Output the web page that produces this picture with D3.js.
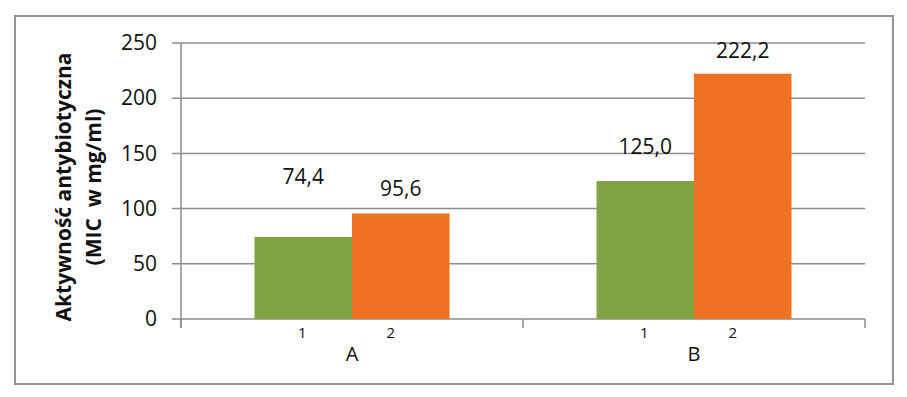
<!DOCTYPE html>
<html><head><meta charset="utf-8">
<script src="https://cdn.jsdelivr.net/npm/d3@7"></script>
<style>body{margin:0;background:#fff}svg{display:block}</style>
</head><body><svg id="c" width="907" height="397"></svg>
<script>
const categories = ["A", "B"];
const series = ["1", "2"];
const values1 = [74.4, 125.0];
const values2 = [95.6, 222.2];
const yTicks = [0, 50, 100, 150, 200, 250];
const valueLabels = [["74,4", "95,6"], ["125,0", "222,2"]];
const yTitle = ["Aktywność antybiotyczna", "(MIC  w mg/ml)"];
const colors = ["#80a441", "#ef7223"];
// label offsets above bar top (layout only)
const labelGap = [[60, 25], [34, 23]];

const svg = d3.select("#c");
const font = "'Open Sans', sans-serif";
const grid = "#8c8c8c";

svg.append("rect").attr("x", 15).attr("y", 16).attr("width", 878).attr("height", 368)
  .attr("fill", "#fff").attr("stroke", "#929292").attr("stroke-width", 2);

const plotL = 181, plotR = 865, plotT = 43, plotB = 319;
const y = d3.scaleLinear().domain([0, 250]).range([plotB, plotT]);
const x0 = d3.scaleBand().domain(categories).range([plotL, plotR]).padding(0);
const x1 = d3.scaleBand().domain(series).range([0, x0.bandwidth()]).paddingInner(0).paddingOuter(0.754);

// gridlines
svg.append("g").selectAll("line").data(yTicks).join("line")
  .attr("x1", plotL - 9).attr("x2", plotR).attr("y1", d => y(d)).attr("y2", d => y(d))
  .attr("stroke", grid).attr("stroke-width", 1.5);

// y tick labels
const yAxis = d3.axisLeft(y).tickValues(yTicks).tickSize(0).tickPadding(24);
const ya = svg.append("g").attr("transform", `translate(${plotL},0)`).call(yAxis);
ya.select(".domain").remove();
ya.selectAll("text").attr("font-family", font).attr("font-size", 21).attr("fill", "#111");

// bars
const data = categories.map((c, i) => ({cat: c, vals: [values1[i], values2[i]]}));
const groups = svg.append("g").selectAll("g").data(data).join("g")
  .attr("transform", d => `translate(${x0(d.cat)},0)`);
groups.selectAll("rect").data(d => d.vals.map((v, j) => ({s: series[j], v, j}))).join("rect")
  .attr("x", d => x1(d.s)).attr("width", x1.bandwidth())
  .attr("y", d => y(d.v)).attr("height", d => y(0) - y(d.v))
  .attr("fill", d => colors[d.j]);

// value labels
groups.each(function(d, i) {
  d3.select(this).selectAll("text.val").data(d.vals).join("text").attr("class", "val")
    .attr("x", (v, j) => x1(series[j]) + x1.bandwidth() / 2)
    .attr("y", (v, j) => y(v) - labelGap[i][j])
    .attr("text-anchor", "middle").attr("dy", "0.35em")
    .attr("font-family", font).attr("font-size", 21).attr("fill", "#111")
    .text((v, j) => valueLabels[i][j]);
});

// axis lines
svg.append("line").attr("x1", plotL).attr("x2", plotL).attr("y1", plotT).attr("y2", plotB + 9)
  .attr("stroke", grid).attr("stroke-width", 1.5);
const xTickPos = [plotL, x0("B"), plotR];
svg.append("g").selectAll("line").data(xTickPos).join("line")
  .attr("x1", d => d).attr("x2", d => d).attr("y1", plotB).attr("y2", plotB + 9)
  .attr("stroke", grid).attr("stroke-width", 1.5);

// sub labels
const subDx = [-1, -10];
groups.selectAll("text.sub").data(series).join("text").attr("class", "sub")
  .attr("x", (s, j) => x1(s) + x1.bandwidth() / 2 + subDx[j]).attr("y", 333).attr("dy", "0.35em")
  .attr("text-anchor", "middle").attr("font-family", font).attr("font-size", 15).attr("fill", "#111")
  .text(s => s);
groups.append("text").attr("x", x0.bandwidth() / 2).attr("y", 354).attr("dy", "0.35em")
  .attr("text-anchor", "middle").attr("font-family", font).attr("font-size", 20).attr("fill", "#111")
  .text(d => d.cat);

// y title
const t = svg.append("text").attr("transform", `translate(0,${(plotT + plotB) / 2 + 6}) rotate(-90)`)
  .attr("text-anchor", "middle").attr("font-family", font).attr("font-size", 21)
  .attr("font-weight", "bold").attr("fill", "#111").style("white-space", "pre");
t.append("tspan").attr("x", 0).attr("y", 71).text(yTitle[0]);
t.append("tspan").attr("x", 0).attr("y", 101).text(yTitle[1]);
</script></body></html>
